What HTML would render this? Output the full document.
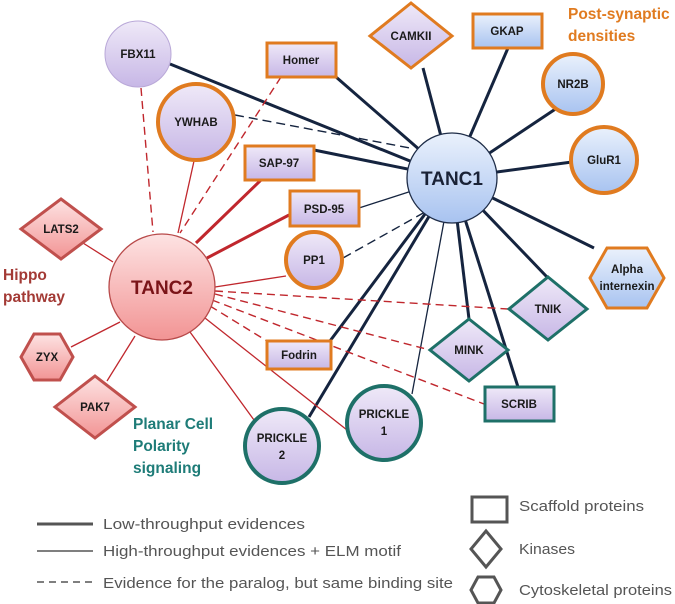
<!DOCTYPE html>
<html><head><meta charset="utf-8"><style>
html,body{margin:0;padding:0;background:#fff;}
svg{display:block;}
text{font-family:"Liberation Sans",sans-serif;}
.n{font-weight:bold;font-size:11.5px;fill:#1a1a1a;text-anchor:middle;}
.lg{font-size:14.5px;fill:#555;}
</style></head><body>
<svg width="675" height="604" viewBox="0 0 675 604" xmlns="http://www.w3.org/2000/svg">
<defs>
<linearGradient id="pu" x1="0" y1="0" x2="0" y2="1"><stop offset="0" stop-color="#efe9f8"/><stop offset="1" stop-color="#c7b7e6"/></linearGradient>
<linearGradient id="bl" x1="0" y1="0" x2="0" y2="1"><stop offset="0" stop-color="#eaf1fc"/><stop offset="1" stop-color="#a8c3f0"/></linearGradient>
<linearGradient id="rd" x1="0" y1="0" x2="0" y2="1"><stop offset="0" stop-color="#fde3e3"/><stop offset="1" stop-color="#f29494"/></linearGradient>
</defs>

<!-- TANC1 edges -->
<g stroke="#15243f" fill="none">
<line x1="170" y1="64" x2="452" y2="178" stroke-width="3"/>
<line x1="336" y1="77" x2="452" y2="178" stroke-width="3"/>
<line x1="235" y1="115" x2="410" y2="148" stroke-width="1.4" stroke-dasharray="9,5"/>
<line x1="314" y1="150" x2="452" y2="178" stroke-width="3"/>
<line x1="359" y1="208" x2="452" y2="178" stroke-width="1.3"/>
<line x1="343" y1="258" x2="425" y2="212" stroke-width="1.4" stroke-dasharray="9,5"/>
<line x1="423" y1="68" x2="452" y2="178" stroke-width="3"/>
<line x1="508" y1="48" x2="452" y2="178" stroke-width="3"/>
<line x1="557" y1="108" x2="452" y2="178" stroke-width="3"/>
<line x1="572" y1="162" x2="452" y2="178" stroke-width="3"/>
<line x1="594" y1="248" x2="452" y2="178" stroke-width="3"/>
<line x1="547" y1="277" x2="452" y2="178" stroke-width="3"/>
<line x1="469" y1="319" x2="452" y2="178" stroke-width="3"/>
<line x1="518" y1="387" x2="452" y2="178" stroke-width="3"/>
<line x1="412" y1="394" x2="452" y2="178" stroke-width="1.3"/>
<line x1="309" y1="417" x2="452" y2="178" stroke-width="3"/>
<line x1="330" y1="341" x2="452" y2="178" stroke-width="3"/>
</g>
<!-- TANC2 edges -->
<g stroke="#c0272d" fill="none">
<line x1="141" y1="88" x2="153" y2="232" stroke-width="1.4" stroke-dasharray="8,5"/>
<line x1="281" y1="77" x2="180" y2="233" stroke-width="1.4" stroke-dasharray="8,5"/>
<line x1="194" y1="161" x2="178" y2="233" stroke-width="1.3"/>
<line x1="261" y1="180" x2="196" y2="243" stroke-width="3"/>
<line x1="289" y1="215" x2="207" y2="258" stroke-width="3"/>
<line x1="286" y1="276" x2="215" y2="287" stroke-width="1.3"/>
<line x1="215" y1="291" x2="508" y2="309" stroke-width="1.4" stroke-dasharray="8,5"/>
<line x1="215" y1="294" x2="430" y2="350" stroke-width="1.4" stroke-dasharray="8,5"/>
<line x1="212" y1="300" x2="484" y2="404" stroke-width="1.4" stroke-dasharray="8,5"/>
<line x1="210" y1="306" x2="267" y2="341" stroke-width="1.4" stroke-dasharray="8,5"/>
<line x1="205" y1="318" x2="347" y2="430" stroke-width="1.3"/>
<line x1="190" y1="332" x2="254" y2="420" stroke-width="1.3"/>
<line x1="83" y1="243" x2="113" y2="262" stroke-width="1.3"/>
<line x1="71" y1="347" x2="120" y2="322" stroke-width="1.3"/>
<line x1="107" y1="381" x2="135" y2="336" stroke-width="1.3"/>
</g>

<!-- Nodes -->
<circle cx="138" cy="54" r="33" fill="url(#pu)" stroke="#b9a8d8" stroke-width="1"/>
<text class="n" x="138" y="58">FBX11</text>
<rect x="267" y="43" width="69" height="34" fill="url(#pu)" stroke="#e07b20" stroke-width="3"/>
<text class="n" x="301" y="64">Homer</text>
<circle cx="196" cy="122" r="38" fill="url(#pu)" stroke="#e07b20" stroke-width="4"/>
<text class="n" x="196" y="126">YWHAB</text>
<rect x="245" y="146" width="69" height="34" fill="url(#pu)" stroke="#e07b20" stroke-width="3"/>
<text class="n" x="279" y="167">SAP-97</text>
<rect x="290" y="191" width="69" height="35" fill="url(#pu)" stroke="#e07b20" stroke-width="3"/>
<text class="n" x="324" y="213">PSD-95</text>
<circle cx="314" cy="260" r="28" fill="url(#pu)" stroke="#e07b20" stroke-width="4"/>
<text class="n" x="314" y="264">PP1</text>
<polygon points="411,3 452,36 411,68 370,36" fill="url(#pu)" stroke="#e07b20" stroke-width="3"/>
<text class="n" x="411" y="40">CAMKII</text>
<rect x="473" y="14" width="69" height="34" fill="url(#bl)" stroke="#e07b20" stroke-width="3"/>
<text class="n" x="507" y="35">GKAP</text>
<circle cx="573" cy="84" r="30" fill="url(#bl)" stroke="#e07b20" stroke-width="4"/>
<text class="n" x="573" y="88">NR2B</text>
<circle cx="604" cy="160" r="33" fill="url(#bl)" stroke="#e07b20" stroke-width="4"/>
<text class="n" x="604" y="164">GluR1</text>
<polygon points="590,278 607,248 647,248 664,278 647,308 607,308" fill="url(#bl)" stroke="#e07b20" stroke-width="3"/>
<text class="n" x="627" y="273">Alpha</text>
<text class="n" x="627" y="290">internexin</text>
<circle cx="452" cy="178" r="45" fill="url(#bl)" stroke="#1f2d48" stroke-width="1.3"/>
<text x="452" y="185" text-anchor="middle" font-size="19" font-weight="bold" fill="#1a2236" style="font-family:'Liberation Sans',sans-serif">TANC1</text>

<polygon points="548,277 587,309 548,340 509,309" fill="url(#pu)" stroke="#1e7068" stroke-width="3"/>
<text class="n" x="548" y="313">TNIK</text>
<polygon points="469,319 508,350 469,381 430,350" fill="url(#pu)" stroke="#1e7068" stroke-width="3"/>
<text class="n" x="469" y="354">MINK</text>
<rect x="485" y="387" width="69" height="34" fill="url(#pu)" stroke="#1e7068" stroke-width="3"/>
<text class="n" x="519" y="408">SCRIB</text>
<rect x="267" y="341" width="64" height="28" fill="url(#pu)" stroke="#e07b20" stroke-width="3"/>
<text class="n" x="299" y="359">Fodrin</text>
<circle cx="384" cy="423" r="37" fill="url(#pu)" stroke="#1e7068" stroke-width="4"/>
<text class="n" x="384" y="418">PRICKLE</text>
<text class="n" x="384" y="435">1</text>
<circle cx="282" cy="446" r="37" fill="url(#pu)" stroke="#1e7068" stroke-width="4"/>
<text class="n" x="282" y="442">PRICKLE</text>
<text class="n" x="282" y="459">2</text>

<circle cx="162" cy="287" r="53" fill="url(#rd)" stroke="#b84a4a" stroke-width="1.3"/>
<text x="162" y="294" text-anchor="middle" font-size="19" font-weight="bold" fill="#7a1418" style="font-family:'Liberation Sans',sans-serif">TANC2</text>
<polygon points="61,199 101,229 61,259 21,229" fill="url(#rd)" stroke="#c0504d" stroke-width="3"/>
<text class="n" x="61" y="233">LATS2</text>
<polygon points="21,357 34,334 60,334 73,357 60,380 34,380" fill="url(#rd)" stroke="#c0504d" stroke-width="3"/>
<text class="n" x="47" y="361">ZYX</text>
<polygon points="95,376 135,407 95,438 55,407" fill="url(#rd)" stroke="#c0504d" stroke-width="3"/>
<text class="n" x="95" y="411">PAK7</text>

<!-- Group labels -->
<g font-weight="bold" font-size="15.5">
<text x="568" y="19" fill="#e07b20">Post-synaptic</text>
<text x="568" y="41" fill="#e07b20">densities</text>
<text x="3" y="280" fill="#a33a35">Hippo</text>
<text x="3" y="302" fill="#a33a35">pathway</text>
<text x="133" y="429" fill="#1e7c78">Planar Cell</text>
<text x="133" y="451" fill="#1e7c78">Polarity</text>
<text x="133" y="473" fill="#1e7c78">signaling</text>
</g>

<!-- Legend -->
<g stroke="#555" fill="none">
<line x1="37" y1="524" x2="93" y2="524" stroke-width="3"/>
<line x1="37" y1="551" x2="93" y2="551" stroke-width="1.5"/>
<line x1="37" y1="582" x2="93" y2="582" stroke-width="1.5" stroke-dasharray="7,5"/>
<rect x="472" y="497" width="35" height="25" stroke-width="3"/>
<polygon points="486,531 501,549 486,567 471,549" stroke-width="3"/>
<polygon points="471,590 478,577 494,577 501,590 494,603 478,603" stroke-width="3"/>
</g>
<text class="lg" x="103" y="529" textLength="202" lengthAdjust="spacingAndGlyphs">Low-throughput evidences</text>
<text class="lg" x="103" y="556" textLength="298" lengthAdjust="spacingAndGlyphs">High-throughput evidences + ELM motif</text>
<text class="lg" x="103" y="588" textLength="350" lengthAdjust="spacingAndGlyphs">Evidence for the paralog, but same binding site</text>
<text class="lg" x="519" y="511" textLength="125" lengthAdjust="spacingAndGlyphs">Scaffold proteins</text>
<text class="lg" x="519" y="554" textLength="56" lengthAdjust="spacingAndGlyphs">Kinases</text>
<text class="lg" x="519" y="595" textLength="153" lengthAdjust="spacingAndGlyphs">Cytoskeletal proteins</text>
</svg>
</body></html>
